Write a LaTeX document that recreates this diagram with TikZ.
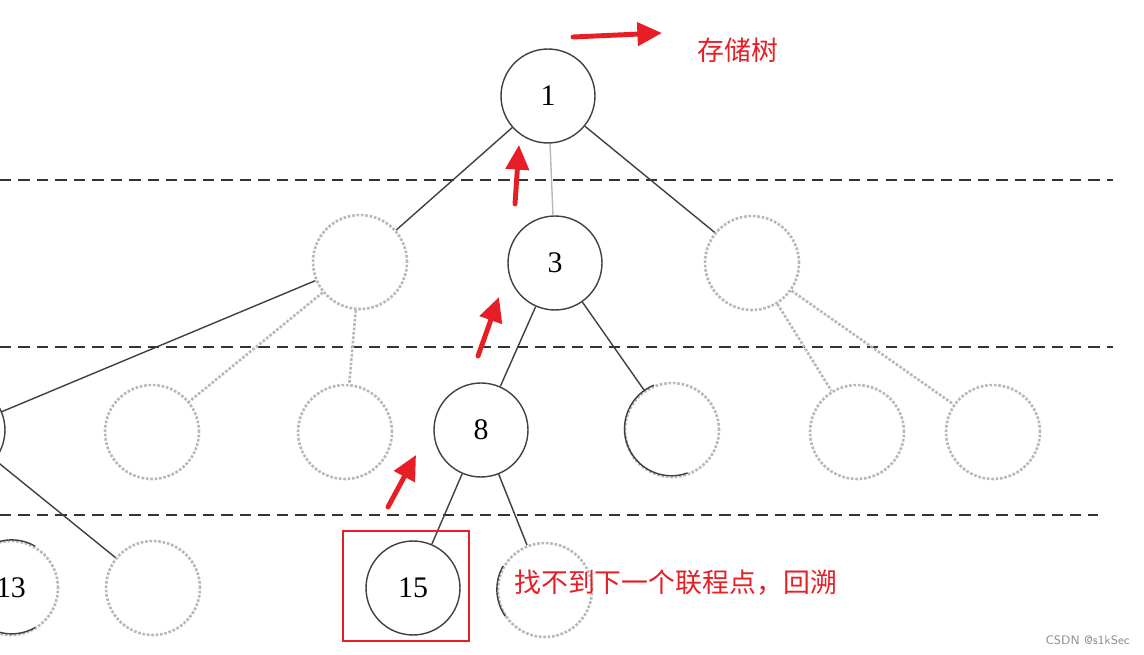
\documentclass[tikz,border=0pt]{standalone}
\usepackage{fontspec}
\setmainfont{Liberation Serif}
\newfontfamily\cjk{Noto Sans CJK SC}
\usetikzlibrary{arrows.meta}
\definecolor{markred}{RGB}{232,30,38}
\colorlet{inkdark}{black!75}
\colorlet{inkfaint}{black!28}
\tikzset{
  treenode/.style={circle, draw=inkdark, line width=0.8pt, minimum size=1.88cm, inner sep=0pt, font=\fontsize{17}{20}\selectfont},
  hidnode/.style={circle, draw=inkfaint, line width=1.5pt, densely dotted, minimum size=1.88cm, inner sep=0pt},
  branch/.style={draw=inkdark, line width=0.8pt},
  hidbranch/.style={draw=inkfaint, line width=1.5pt, densely dotted},
  halfarc/.style={draw=inkdark, line width=0.8pt},
  layerline/.style={draw=black!80, line width=1.1pt, dash pattern=on 6.5pt off 4pt},
  markarrow/.style={draw=markred, line width=2.8pt, line cap=round, -{Triangle[length=14pt,width=13pt,fill=markred]}},
  marktext/.style={text=markred, inner sep=0pt, font=\cjk\fontsize{15.3}{18}\selectfont}
}

\begin{document}
\begin{tikzpicture}[x=0.02cm, y=-0.02cm]
\useasboundingbox (0,0) rectangle (1144,655);
\clip (0,0) rectangle (1144,655);
% layers
\draw[layerline] (0,180) -- (1113,180);
\draw[layerline] (0,347) -- (1113,347);
\draw[layerline] (0,515) -- (1098,515);
% tree nodes
\node[treenode] (n1) at (548,96) {1};
\node[hidnode] (n2) at (360,262) {};
\node[treenode] (n3) at (555,263) {3};
\node[hidnode] (n4) at (752,263) {};
\node[treenode] (n5) at (-42,430) {};
\node[hidnode] (n6) at (152,432) {};
\node[hidnode] (n7) at (345,432) {};
\node[treenode] (n8) at (481,430) {8};
\node[hidnode] (n9) at (672,430) {};
\node[hidnode] (n10) at (857,432) {};
\node[hidnode] (n11) at (993,432) {};
\node[hidnode, font=\fontsize{17}{20}\selectfont] (n13) at (11,588) {13};
\node[hidnode] (n14) at (153,588) {};
\node[treenode] (n15) at (413,588) {15};
\node[hidnode] (n16) at (545,590) {};
% half visible arcs
\draw[halfarc] (n9.112) arc[start angle=112, end angle=290, radius=0.94cm];
\draw[halfarc] (n13.60) arc[start angle=60, end angle=300, radius=0.94cm];
\draw[halfarc] (n16.150) arc[start angle=150, end angle=215, radius=0.94cm];
% branches
\draw[branch] (n1) -- (n2);
\draw[draw=inkfaint, line width=0.8pt] (n1) -- (n3);
\draw[branch] (n1) -- (n4);
\draw[branch] (n2) -- (n5);
\draw[hidbranch] (n2) -- (n6);
\draw[hidbranch] (n2) -- (n7);
\draw[branch] (n3) -- (n8);
\draw[branch] (n3) -- (n9);
\draw[hidbranch] (n4) -- (n10);
\draw[hidbranch] (n4) -- (n11);
\draw[branch] (n5) -- (n14);
\draw[branch] (n8) -- (n15);
\draw[branch] (n8) -- (n16);
% marks
\draw[markred, line width=1.6pt] (343,531) rectangle (469,641);
\draw[markarrow] (573,37) -- (662,33);
\draw[markarrow] (515,204) -- (519,145);
\draw[markarrow] (478,356) -- (499,297);
\draw[markarrow] (388,507) -- (416,455);
\node[marktext, anchor=west] (lbltree) at (697,50) {存储树};
\node[marktext, anchor=west] (lblback) at (514,583) {找不到下一个联程点，回溯};
\node[anchor=east, inner sep=0pt, text=black!45, font=\sffamily\fontsize{7}{8}\selectfont] (mark) at (1130,640) {CSDN @s1kSec};
\end{tikzpicture}
\end{document}
